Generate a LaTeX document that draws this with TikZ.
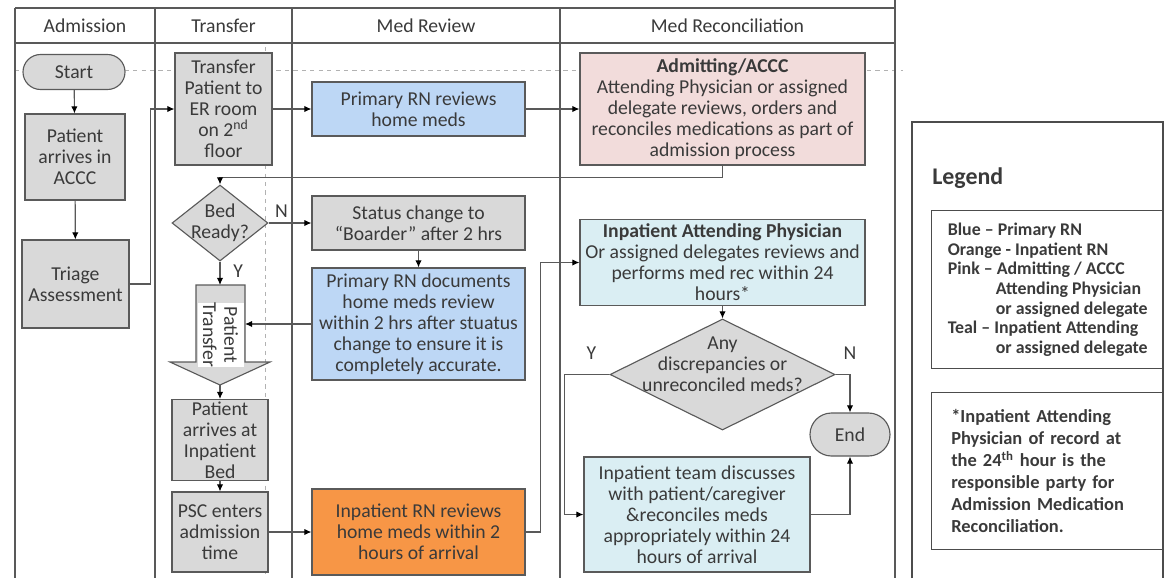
\documentclass[tikz,border=0pt]{standalone}
\usepackage{fontspec}
\setmainfont{Carlito}
\usepackage{tikz}
\usetikzlibrary{arrows.meta,shapes.geometric}

\definecolor{boxgray}{HTML}{D9D9D9}
\definecolor{boxblue}{HTML}{BDD7F5}
\definecolor{boxpink}{HTML}{F2DCDB}
\definecolor{boxteal}{HTML}{DAEEF3}
\definecolor{boxorange}{HTML}{F79646}
\definecolor{edgegray}{HTML}{5A5A5A}
\definecolor{textgray}{HTML}{3A3A3A}

\newcommand{\boxfont}{\fontsize{14}{15}\selectfont}

\tikzset{
	lane/.style={draw=black!65, line width=1.1pt},
	guide/.style={draw=black!30, dashed, line width=0.6pt},
	proc/.style={draw=edgegray, line width=0.8pt, fill=boxgray, align=center, inner sep=1pt, text=textgray, font=\boxfont},
	bluebox/.style={proc, fill=boxblue},
	pinkbox/.style={proc, fill=boxpink},
	tealbox/.style={proc, fill=boxteal},
	orangebox/.style={proc, fill=boxorange},
	decision/.style={proc, diamond, inner sep=0pt},
	lbl/.style={text=textgray, font=\boxfont},
	legbox/.style={draw=black!70, line width=1pt, align=left, text=textgray},
	arr/.style={draw=black!65, line width=0.8pt, -{Latex[length=5pt,width=4.5pt,color=black]}},
}

\begin{document}
\begin{tikzpicture}
		\useasboundingbox (0,0) rectangle (29.1,-14.45);
		
		\draw[guide] (0.375,-1.75) -- (22.575,-1.75);
		\draw[guide] (6.625,-1.175) -- (6.625,-14.45);
		
		\draw[lane] (0.375,-0.2) -- (22.375,-0.2);
		\draw[lane] (0.375,-1.075) -- (22.375,-1.075);
		\draw[lane] (0.375,-0.2) -- (0.375,-14.45);
		\draw[lane] (3.875,-0.2) -- (3.875,-14.45);
		\draw[lane] (7.3,-0.2) -- (7.3,-14.45);
		\draw[lane] (14.0,-0.2) -- (14.0,-14.45);
		\draw[lane] (22.375,0) -- (22.375,-14.45);
		
		\node[lbl] (hadm) at (2.125,-0.6375) {Admission};
		\node[lbl] (htra) at (5.5875,-0.6375) {Transfer};
		\node[lbl] (hrev) at (10.65,-0.6375) {Med Review};
		\node[lbl] (hrec) at (18.1875,-0.6375) {Med Reconciliation};
		
		\node[proc, rounded corners=0.4375cm, minimum width=2.55cm, minimum height=0.875cm] (start) at (1.85,-1.8) {Start};
		\node[proc, minimum width=2.5cm, minimum height=2.15cm] (arrive) at (1.875,-3.925) {Patient\\arrives in\\ACCC};
		\node[proc, minimum width=2.675cm, minimum height=2.2cm] (triage) at (1.8875,-7.1) {Triage\\Assessment};
		
		\node[proc, minimum width=2.425cm, minimum height=2.8cm] (transfer) at (5.5875,-2.725) {Transfer\\Patient to\\ER room\\on 2\textsuperscript{nd}\\floor};
		\node[decision, minimum width=2.4cm, minimum height=1.9cm, label={[lbl,align=center]center:Bed\\Ready?}] (bed) at (5.5,-5.575) {};
		\draw[draw=edgegray, fill=boxgray, line width=0.8pt] (4.9,-7.125) -- (6.125,-7.125) -- (6.125,-9.05) -- (6.75,-9.05) -- (5.5,-9.625) -- (4.25,-9.05) -- (4.9,-9.05) -- cycle;
		\node[lbl, fill=white, rotate=-90, align=center, inner sep=0pt, minimum width=1.5cm, minimum height=1.15cm] (ptxt) at (5.5125,-8.375) {Patient\\Transfer};
		\coordinate (ptop) at (5.5,-7.125);
		\coordinate (pside) at (6.125,-8.1);
		\coordinate (ptip) at (5.5,-9.625);
		\node[proc, inner sep=0pt, minimum width=2.4cm, minimum height=2.025cm] (inbed) at (5.5,-11.0) {Patient\\arrives at\\Inpatient\\Bed};
		\node[proc, minimum width=2.4cm, minimum height=2.0cm] (psc) at (5.5,-13.3) {PSC enters\\admission\\time};
		
		\node[bluebox, minimum width=5.325cm, minimum height=1.35cm] (prim) at (10.4625,-2.725) {Primary RN reviews\\home meds};
		\node[proc, minimum width=5.325cm, minimum height=1.35cm] (status) at (10.4625,-5.575) {Status change to\\“Boarder” after 2 hrs};
		\node[bluebox, minimum width=5.325cm, minimum height=2.8cm] (primdoc) at (10.4625,-8.1) {Primary RN documents\\home meds review\\within 2 hrs after stuatus\\change to ensure it is\\completely accurate.};
		\node[orangebox, minimum width=5.325cm, minimum height=2.15cm] (inrn) at (10.4625,-13.3) {Inpatient RN reviews\\home meds within 2\\hours of arrival};
		
		\node[pinkbox, minimum width=7.125cm, minimum height=2.8cm] (admit) at (18.0625,-2.725) {\textbf{Admitting/ACCC}\\Attending Physician or assigned\\delegate reviews, orders and\\reconciles medications as part of\\admission process};
		\node[tealbox, minimum width=7.125cm, minimum height=2.15cm] (attend) at (18.0625,-6.5625) {\textbf{Inpatient Attending Physician}\\Or assigned delegates reviews and\\performs med rec within 24\\hours*};
		\node[decision, minimum width=5.625cm, minimum height=2.775cm, label={[lbl,align=center,yshift=0.25cm]center:Any\\discrepancies or\\unreconciled meds?}] (disc) at (18.0625,-9.3625) {};
		\node[proc, rounded corners=0.5375cm, minimum width=2.0cm, minimum height=1.075cm] (endn) at (21.25,-10.8625) {End};
		\node[tealbox, minimum width=5.65cm, minimum height=2.875cm] (team) at (17.425,-12.8625) {Inpatient team discusses\\with patient/caregiver\\\&reconciles meds\\appropriately within 24\\hours of arrival};
		
		\draw[arr] (start) -- (arrive);
		\draw[arr] (arrive) -- (triage);
		\draw[arr] (triage.east) -- ++(0.525,0) |- (transfer.west);
		\draw[arr] (transfer) -- (prim);
		\draw[arr] (prim) -- (admit);
		\draw[arr] (admit.south) -- ++(0,-0.3) -| (bed.north);
		\draw[arr] (bed.east) -- node[lbl, pos=0.3, above] {N} (status.west);
		\draw[arr] (bed.south) -- node[lbl, pos=0.4, right=0.2cm] {Y} (ptop);
		\draw[arr] (status) -- (primdoc);
		\draw[arr] (primdoc.west) -- (pside);
		\draw[arr] (ptip) -- (inbed);
		\draw[arr] (inbed) -- (psc);
		\draw[arr] (psc) -- (inrn);
		\draw[arr] (inrn.east) -- ++(0.375,0) |- (attend.west);
		\draw[arr] (attend) -- (disc);
		\draw[arr] (disc.west) -- node[lbl, pos=0.4, above=0.25cm] {Y} ++(-1.125,0) |- (team.west);
		\draw[arr] (disc.east) -| node[lbl, pos=0.5, above=0.25cm] {N} (endn.north);
		\draw[arr] (team.east) -| (endn.south);
		
		\draw[draw=black!70, line width=1pt] (22.8,-14.45) -- (22.8,-3.05) -- (29.075,-3.05) -- (29.075,-14.45);
		\node[anchor=west, inner sep=0pt, text=textgray, font=\fontsize{17}{20}\selectfont\bfseries] (legend) at (23.3,-4.45) {Legend};
		\node[legbox, anchor=north west, minimum width=5.8cm, minimum height=3.95cm, font=\fontsize{12.7}{13.9}\selectfont\bfseries] (key) at (23.275,-5.25) {Blue – Primary RN\\Orange - Inpatient RN\\Pink – Admitting / ACCC\\\hspace*{1.2cm}Attending Physician\\\hspace*{1.2cm}or assigned delegate\\Teal – Inpatient Attending\\\hspace*{1.2cm}or assigned delegate};
		\node[legbox, anchor=north west, minimum width=5.8cm, minimum height=3.925cm, text width=4.82cm, inner xsep=0.49cm, font=\fontsize{13.1}{15.6}\selectfont\bfseries] (note) at (23.275,-9.8) {*Inpatient Attending\\Physician of record at\\the 24\textsuperscript{th} hour is the\\responsible party for\\Admission Medication\\Reconciliation.};
\end{tikzpicture}
\end{document}
